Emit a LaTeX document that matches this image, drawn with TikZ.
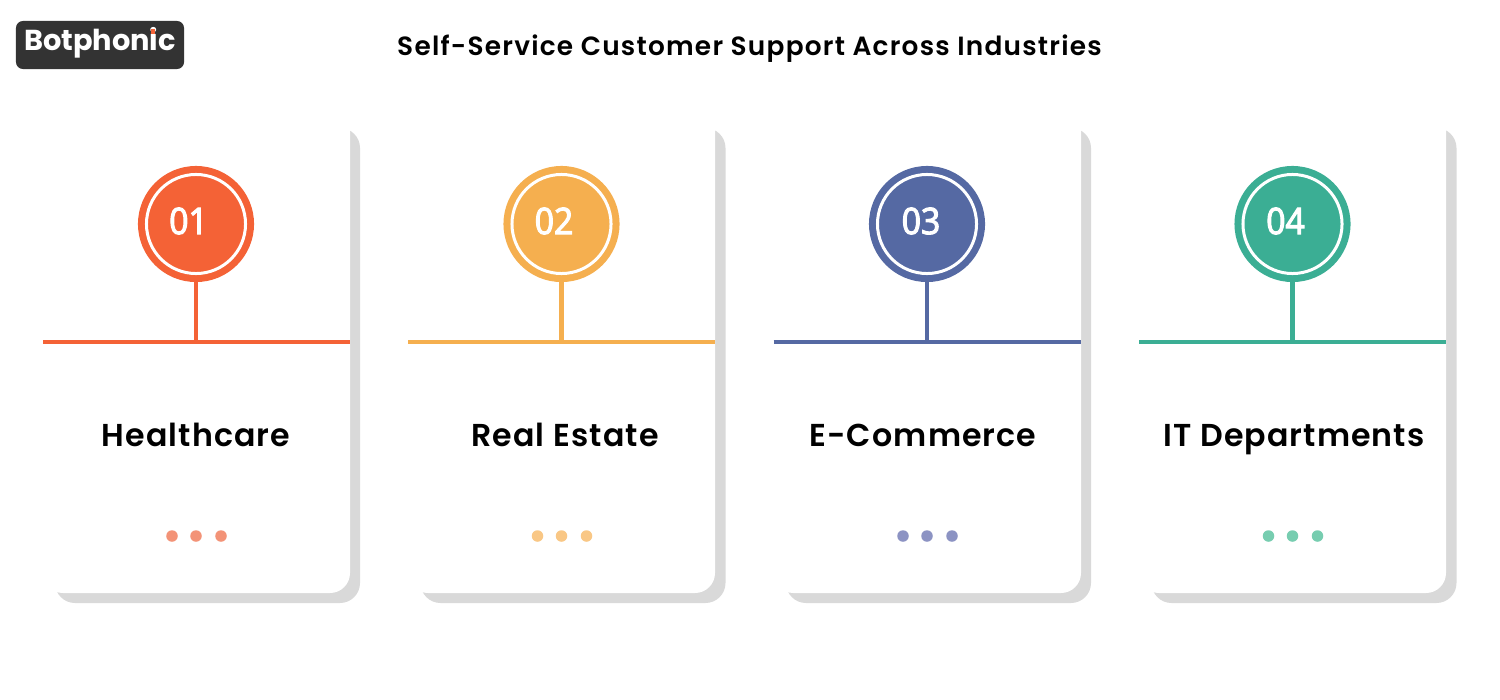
\documentclass[tikz,border=0pt]{standalone}
\usepackage{fontspec}
\setmainfont{Poppins}[BoldFont={Poppins SemiBold}]
\newfontfamily\numfont{Open Sans}[FakeBold=3, FakeStretch=0.92]
\newfontfamily\logofont{Poppins}
\usepackage{xcolor}
\definecolor{cardgray}{HTML}{D9D9D9}
\definecolor{logodark}{HTML}{333333}
\definecolor{orangeA}{HTML}{F46236}
\definecolor{orangeB}{HTML}{F39377}
\definecolor{yellowA}{HTML}{F5AF4F}
\definecolor{yellowB}{HTML}{F9C785}
\definecolor{blueA}{HTML}{5569A3}
\definecolor{blueB}{HTML}{8C93C3}
\definecolor{greenA}{HTML}{3BAE94}
\definecolor{greenB}{HTML}{77CDB0}
\begin{document}
\begin{tikzpicture}[x=0.01cm, y=-0.01cm,
    every node/.style={outer sep=0pt},
    shadowbox/.style={fill=cardgray, rounded corners=0.2cm},
    cardbox/.style={fill=white, rounded corners=0.2cm},
    badge/.style={circle, minimum size=1.16cm, inner sep=0pt},
    ring/.style={circle, draw=white, line width=0.03cm, minimum size=0.99cm, inner sep=0pt},
    num/.style={text=white, font=\numfont\fontsize{10.4}{12}\selectfont},
    stem/.style={line width=0.047cm},
    rule/.style={line width=0.047cm},
    dot/.style={circle, minimum size=0.115cm, inner sep=0pt},
    cardlabel/.style={anchor=base, font=\fontsize{9}{12}\selectfont\bfseries\addfontfeature{LetterSpace=3.5}}]

    \useasboundingbox (0,0) rectangle (1500,700);

    % Logo
    \node[fill=logodark, rounded corners=0.07cm, minimum width=1.68cm, minimum height=0.48cm] (logo) at (100,45) {};
    \node[anchor=base, text=white, font=\logofont\fontsize{8.2}{10}\selectfont\bfseries] (logotext) at (100,51) {Botphonic};
    \node[fill=orangeA, minimum size=0.045cm, inner sep=0pt] (logodot) at (153,31.5) {};

    % Title
    \node[anchor=base, font=\fontsize{7.5}{10}\selectfont\bfseries\addfontfeature{LetterSpace=4.7}] (title) at (749.5,55) {Self-Service Customer Support Across Industries};

    % Card 1: Healthcare
    \fill[shadowbox] (55,128) rectangle (360,603);
    \fill[cardbox] (43,110) rectangle (350,593);
    \node[badge, fill=orangeA] (badge1) at (196,224) {};
    \node[ring] (ring1) at (196,224) {};
    \node[num] (num1) at (188.5,221) {01};
    \coordinate (left1) at (43,342);
    \coordinate (hub1) at (196,342);
    \coordinate (right1) at (350,342);
    \draw[stem, orangeA] (badge1) -- (hub1);
    \draw[rule, orangeA] (left1) -- (right1);
    \node[cardlabel] (label1) at (196,446) {Healthcare};
    \node[dot, fill=orangeB] (dot1a) at (172,536) {};
    \node[dot, fill=orangeB] (dot1b) at (196,536) {};
    \node[dot, fill=orangeB] (dot1c) at (221,536) {};

    % Card 2: Real Estate
    \fill[shadowbox] (420.5,128) rectangle (725.5,603);
    \fill[cardbox] (408,110) rectangle (715,593);
    \node[badge, fill=yellowA] (badge2) at (561.5,224) {};
    \node[ring] (ring2) at (561.5,224) {};
    \node[num] (num2) at (554,221) {02};
    \coordinate (left2) at (408,342);
    \coordinate (hub2) at (561.5,342);
    \coordinate (right2) at (715,342);
    \draw[stem, yellowA] (badge2) -- (hub2);
    \draw[rule, yellowA] (left2) -- (right2);
    \node[cardlabel] (label2) at (565,446) {Real Estate};
    \node[dot, fill=yellowB] (dot2a) at (537.5,536) {};
    \node[dot, fill=yellowB] (dot2b) at (561.5,536) {};
    \node[dot, fill=yellowB] (dot2c) at (586.5,536) {};

    % Card 3: E-Commerce
    \fill[shadowbox] (786,128) rectangle (1091,603);
    \fill[cardbox] (773.5,110) rectangle (1081,593);
    \node[badge, fill=blueA] (badge3) at (927,224) {};
    \node[ring] (ring3) at (927,224) {};
    \node[num] (num3) at (921,221) {03};
    \coordinate (left3) at (773.5,342);
    \coordinate (hub3) at (927,342);
    \coordinate (right3) at (1081,342);
    \draw[stem, blueA] (badge3) -- (hub3);
    \draw[rule, blueA] (left3) -- (right3);
    \node[cardlabel] (label3) at (923,446) {E-Commerce};
    \node[dot, fill=blueB] (dot3a) at (903,536) {};
    \node[dot, fill=blueB] (dot3b) at (927,536) {};
    \node[dot, fill=blueB] (dot3c) at (952,536) {};

    % Card 4: IT Departments
    \fill[shadowbox] (1151.5,128) rectangle (1456.5,603);
    \fill[cardbox] (1139,110) rectangle (1446,593);
    \node[badge, fill=greenA] (badge4) at (1292.5,224) {};
    \node[ring] (ring4) at (1292.5,224) {};
    \node[num] (num4) at (1285.5,221) {04};
    \coordinate (left4) at (1139,342);
    \coordinate (hub4) at (1292.5,342);
    \coordinate (right4) at (1446,342);
    \draw[stem, greenA] (badge4) -- (hub4);
    \draw[rule, greenA] (left4) -- (right4);
    \node[cardlabel] (label4) at (1294,446) {IT Departments};
    \node[dot, fill=greenB] (dot4a) at (1268.5,536) {};
    \node[dot, fill=greenB] (dot4b) at (1292.5,536) {};
    \node[dot, fill=greenB] (dot4c) at (1317.5,536) {};

\end{tikzpicture}
\end{document}
